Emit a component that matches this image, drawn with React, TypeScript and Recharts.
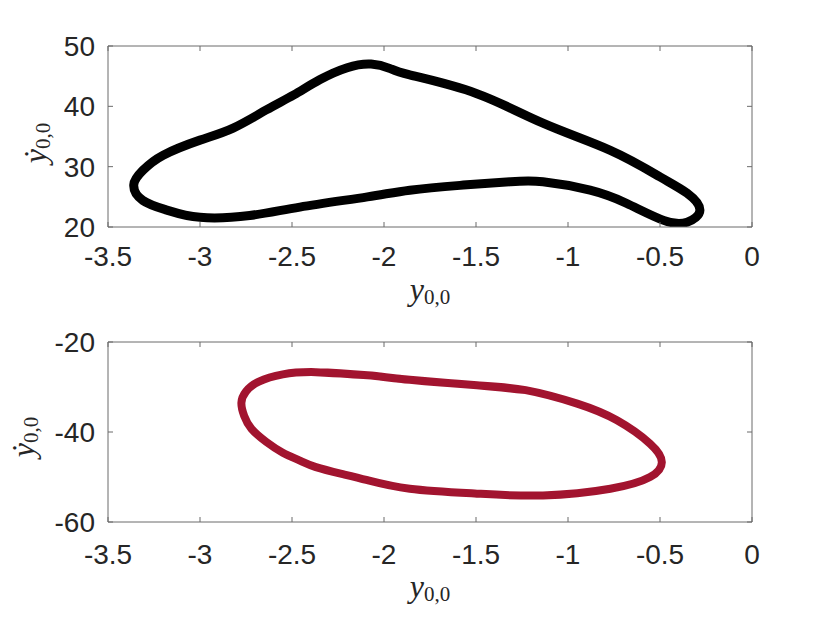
import { Line, LineChart, XAxis, YAxis } from 'recharts';

// x ticks shared by both panels
const X_TICKS = [-3.5, -3, -2.5, -2, -1.5, -1, -0.5, 0];
const TOP_Y_TICKS = [20, 30, 40, 50];
const BOTTOM_Y_TICKS = [-60, -40, -20];

// top panel: noisy limit cycle (black), closed loop (last point = first point)
const topX = [
  -1.136, -0.77, -0.5, -0.353, -0.283, -0.353, -0.48, -0.68, -0.88, -1.136, -1.315, -1.587, -1.86,
  -2.09, -2.457, -2.73, -3.0, -3.18, -3.31, -3.36, -3.31, -3.2, -3.0, -2.82, -2.64, -2.49, -2.35,
  -2.2, -2.07, -1.97, -1.86, -1.495, -1.136,
];
const topY = [
  37.2, 32.7, 28.3, 25.6, 22.8, 20.8, 21.1, 23.9, 26.1, 27.5, 27.5, 26.9, 26.1,
  25.0, 23.3, 21.9, 21.6, 22.8, 24.4, 27.0, 29.4, 31.9, 34.4, 36.4, 39.4, 41.9, 44.4,
  46.4, 47.0, 46.3, 45.2, 42.1, 37.2,
];

// bottom panel: smooth limit cycle (crimson), closed loop
const bottomX = [
  -1.86, -1.495, -1.23, -0.95, -0.734, -0.554, -0.49, -0.554, -0.77, -1.136, -1.495, -1.86, -2.09,
  -2.23, -2.37, -2.46, -2.55, -2.64, -2.72, -2.76, -2.775, -2.75, -2.68, -2.55, -2.37, -2.09, -1.86,
];
const bottomY = [
  -28.4, -29.6, -30.7, -33.7, -37.4, -42.6, -46.7, -50.0, -52.6, -54.1, -53.7, -52.6, -50.7,
  -49.3, -47.8, -46.3, -44.6, -42.2, -39.3, -36.4, -33.5, -31.0, -28.8, -27.2, -26.7, -27.4, -28.4,
];

// wrap a couple of points past each end so the spline has no kink where the loop closes
function closedLoop(xs: number[], ys: number[]) {
  const pts = xs.map((x, i) => ({ x, y: ys[i] }));
  const n = pts.length;
  return [...pts.slice(n - 3, n - 1), ...pts, ...pts.slice(1, 3)];
}

const topData = closedLoop(topX, topY);
const bottomData = closedLoop(bottomX, bottomY);

const TICK_FONT = { fontFamily: '"Liberation Sans", Arial, sans-serif', fontSize: 28, fill: '#262626' };
const AXIS_STROKE = '#6b6b6b';
const SERIF = '"Liberation Serif", "DejaVu Serif", serif';

function MathLabel({ dot }: { dot?: boolean }) {
  return (
    <span style={{ fontFamily: SERIF, fontSize: 32, color: '#262626', whiteSpace: 'nowrap' }}>
      <i>{dot ? 'ẏ' : 'y'}</i>
      <span style={{ fontSize: 21, position: 'relative', top: 4 }}>0,0</span>
    </span>
  );
}

function RotatedLabel({ cx, cy }: { cx: number; cy: number }) {
  return (
    <div
      style={{
        position: 'absolute',
        left: cx,
        top: cy,
        transform: 'translate(-50%, -50%) rotate(-90deg)',
        lineHeight: '32px',
      }}
    >
      <MathLabel dot />
    </div>
  );
}

function Panel({
  data,
  yDomain,
  yTicks,
  color,
  strokeWidth,
  height,
  marginTop,
  xAxisHeight,
  xTickMargin,
}: {
  data: { x: number; y: number }[];
  yDomain: [number, number];
  yTicks: number[];
  color: string;
  strokeWidth: number;
  height: number;
  marginTop: number;
  xAxisHeight: number;
  xTickMargin: number;
}) {
  return (
    <LineChart width={830} height={height} data={data} margin={{ top: marginTop, right: 77, left: 0, bottom: 0 }}>
      <XAxis
        type="number"
        dataKey="x"
        domain={[-3.5, 0]}
        ticks={X_TICKS}
        height={xAxisHeight}
        tickSize={-5}
        tickMargin={xTickMargin}
        tick={TICK_FONT}
        stroke={AXIS_STROKE}
        allowDataOverflow
      />
      <XAxis
        xAxisId="top"
        orientation="top"
        type="number"
        dataKey="x"
        domain={[-3.5, 0]}
        ticks={X_TICKS}
        height={1}
        tickSize={-5}
        tickFormatter={() => ''}
        stroke={AXIS_STROKE}
        allowDataOverflow
      />
      <YAxis
        type="number"
        domain={yDomain}
        ticks={yTicks}
        width={108}
        tickSize={-5}
        tickMargin={18}
        tick={TICK_FONT}
        stroke={AXIS_STROKE}
        allowDataOverflow
      />
      <YAxis
        yAxisId="right"
        orientation="right"
        type="number"
        domain={yDomain}
        ticks={yTicks}
        width={1}
        tickSize={-5}
        tickFormatter={() => ''}
        stroke={AXIS_STROKE}
        allowDataOverflow
      />
      <Line
        dataKey="y"
        type="natural"
        stroke={color}
        strokeWidth={strokeWidth}
        strokeLinejoin="round"
        strokeLinecap="round"
        dot={false}
        activeDot={false}
        isAnimationActive={false}
      />
    </LineChart>
  );
}

export default function App() {
  return (
    <div style={{ position: 'absolute', left: 0, top: 0, width: 830, height: 623, background: '#fff' }}>
      <div style={{ position: 'absolute', left: 0, top: 0 }}>
        <Panel
          data={topData}
          yDomain={[20, 50]}
          yTicks={TOP_Y_TICKS}
          color="#000000"
          strokeWidth={9}
          height={310}
          marginTop={45}
          xAxisHeight={83}
          xTickMargin={24}
        />
      </div>
      <div style={{ position: 'absolute', left: 0, top: 310 }}>
        <Panel
          data={bottomData}
          yDomain={[-60, -20]}
          yTicks={BOTTOM_Y_TICKS}
          color="#A2142F"
          strokeWidth={8}
          height={313}
          marginTop={31}
          xAxisHeight={101}
          xTickMargin={27}
        />
      </div>

      {/* axis titles */}
      <div style={{ position: 'absolute', left: 0, width: 860, top: 273, textAlign: 'center', lineHeight: '32px' }}>
        <MathLabel />
      </div>
      <div style={{ position: 'absolute', left: 0, width: 860, top: 570, textAlign: 'center', lineHeight: '32px' }}>
        <MathLabel />
      </div>
      <RotatedLabel cx={38} cy={143} />
      <RotatedLabel cx={26} cy={437} />
    </div>
  );
}
